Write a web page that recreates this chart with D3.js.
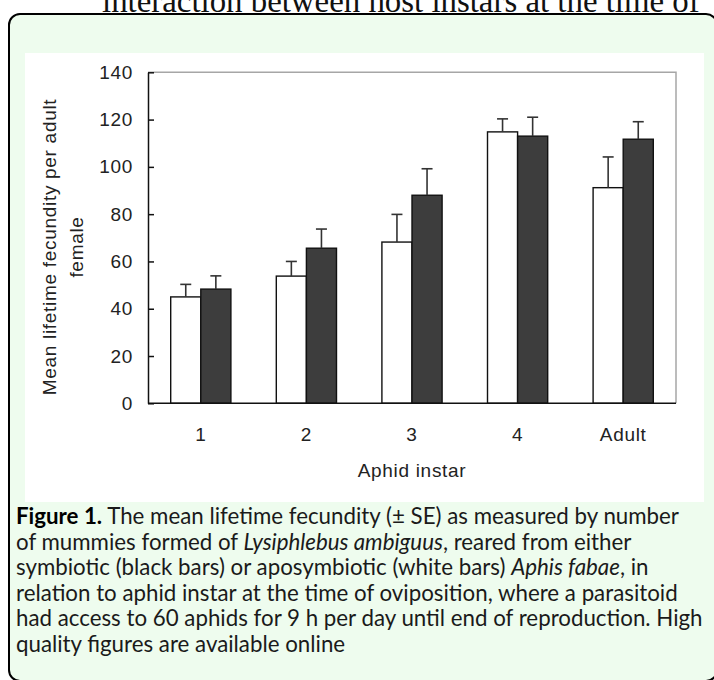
<!DOCTYPE html>
<html>
<head>
<meta charset="utf-8">
<script src="https://cdn.jsdelivr.net/npm/d3@7"></script>
<style>
  html, body { margin: 0; padding: 0; background: #ffffff; }
  svg { display: block; }
</style>
</head>
<body>
<svg id="chart" width="714" height="680"></svg>
<script>
// ---- data ----
const categories = ["1", "2", "3", "4", "Adult"];
const aposymbiotic = [45.0, 53.8, 68.2, 114.8, 91.2];     // white bars
const aposymbioticSE = [5.3, 6.2, 11.7, 5.5, 13.0];
const symbiotic = [48.3, 65.6, 88.0, 113.0, 111.7];       // black bars
const symbioticSE = [5.6, 8.1, 11.2, 8.0, 7.4];
const yTicks = [0, 20, 40, 60, 80, 100, 120, 140];
const seriesKeys = ["aposymbiotic", "symbiotic"];
const yLabelLines = ["Mean lifetime fecundity per adult", "female"];
const xLabel = "Aphid instar";
const headerText = "interaction between host instars at the time of";
const captionLines = [
  [{t: "Figure 1.", b: true}, {t: " The mean lifetime fecundity (± SE) as measured by number"}],
  [{t: "of mummies formed of "}, {t: "Lysiphlebus ambiguus", i: true}, {t: ", reared from either"}],
  [{t: "symbiotic (black bars) or aposymbiotic (white bars) "}, {t: "Aphis fabae", i: true}, {t: ", in"}],
  [{t: "relation to aphid instar at the time of oviposition, where a parasitoid"}],
  [{t: "had access to 60 aphids for 9 h per day until end of reproduction. High"}],
  [{t: "quality figures are available online"}]
];

const rows = categories.map((c, i) => ({
  cat: c,
  vals: [
    {key: "aposymbiotic", v: aposymbiotic[i], se: aposymbioticSE[i]},
    {key: "symbiotic", v: symbiotic[i], se: symbioticSE[i]}
  ]
}));

const svg = d3.select("#chart");

// header text (page text above the box, partly cut by the top of the view)
const head = svg.append("text")
  .attr("x", 102).attr("y", 12)
  .attr("font-family", "'Liberation Serif', 'Times New Roman', serif")
  .attr("font-size", 27)
  .attr("fill", "#111")
  .text(headerText);
{
  const w = head.node().getComputedTextLength();
  head.attr("font-size", 27 * 598 / w);
}

// outer figure box
svg.append("rect")
  .attr("x", 9).attr("y", 14)
  .attr("width", 708).attr("height", 667)
  .attr("rx", 11).attr("ry", 11)
  .attr("fill", "#eefcee")
  .attr("stroke", "#000").attr("stroke-width", 2);

// white chart panel
svg.append("rect")
  .attr("x", 25).attr("y", 53)
  .attr("width", 679).attr("height", 449)
  .attr("fill", "#ffffff");

// ---- scales ----
const plotL = 148, plotR = 676, plotT = 72.3, plotB = 403.3;
const y = d3.scaleLinear().domain([0, 140]).range([plotB, plotT]);
const x0 = d3.scaleBand().domain(categories).range([plotL, plotR])
  .paddingInner(0.43).paddingOuter(0.215);
const x1 = d3.scaleBand().domain(seriesKeys).range([0, x0.bandwidth()]);
const fills = d3.scaleOrdinal().domain(seriesKeys).range(["#ffffff", "#3d3d3d"]);

const axisFont = "'Liberation Sans', Arial, sans-serif";
const axisSize = 19;
const axisSpacing = 0.7;

// plot frame (top & right in grey)
svg.append("path")
  .attr("d", `M${plotL},${plotT}H${plotR}V${plotB}`)
  .attr("fill", "none").attr("stroke", "#a6a6a6").attr("stroke-width", 1.5);

// bars
const g = svg.append("g");
const groups = g.selectAll("g.grp").data(rows).join("g")
  .attr("class", "grp")
  .attr("transform", d => `translate(${x0(d.cat)},0)`);

groups.selectAll("rect").data(d => d.vals).join("rect")
  .attr("x", d => x1(d.key))
  .attr("y", d => y(d.v))
  .attr("width", x1.bandwidth())
  .attr("height", d => y(0) - y(d.v))
  .attr("fill", d => fills(d.key))
  .attr("stroke", "#111").attr("stroke-width", 1.4);

// error bars (upper only)
const eb = groups.selectAll("g.eb").data(d => d.vals).join("g").attr("class", "eb");
eb.append("line")
  .attr("x1", d => x1(d.key) + x1.bandwidth() / 2)
  .attr("x2", d => x1(d.key) + x1.bandwidth() / 2)
  .attr("y1", d => y(d.v))
  .attr("y2", d => y(d.v + d.se))
  .attr("stroke", "#333").attr("stroke-width", 1.6);
eb.append("line")
  .attr("x1", d => x1(d.key) + x1.bandwidth() / 2 - 5.5)
  .attr("x2", d => x1(d.key) + x1.bandwidth() / 2 + 5.5)
  .attr("y1", d => y(d.v + d.se))
  .attr("y2", d => y(d.v + d.se))
  .attr("stroke", "#333").attr("stroke-width", 1.6);

// y axis
const yAxis = svg.append("g")
  .attr("transform", `translate(${plotL},0)`)
  .call(d3.axisLeft(y).tickValues(yTicks).tickSizeInner(-6).tickSizeOuter(0).tickPadding(15));
yAxis.select(".domain").attr("stroke", "#111").attr("stroke-width", 1.5);
yAxis.selectAll(".tick line").attr("stroke", "#111").attr("stroke-width", 1.5);
yAxis.selectAll(".tick text")
  .attr("font-family", axisFont).attr("font-size", axisSize)
  .attr("letter-spacing", axisSpacing).attr("fill", "#222");

// x axis
const xAxis = svg.append("g")
  .attr("transform", `translate(0,${plotB})`)
  .call(d3.axisBottom(x0).tickSize(0).tickPadding(0));
xAxis.select(".domain").attr("stroke", "#111").attr("stroke-width", 1.5)
  .attr("d", `M${plotL},0H${plotR}`);
xAxis.selectAll(".tick text")
  .attr("y", 37.5).attr("dy", 0)
  .attr("font-family", axisFont).attr("font-size", axisSize)
  .attr("letter-spacing", axisSpacing).attr("fill", "#222");

// axis titles
svg.append("text")
  .attr("x", (plotL + plotR) / 2).attr("y", 477)
  .attr("text-anchor", "middle")
  .attr("font-family", axisFont).attr("font-size", axisSize)
  .attr("letter-spacing", axisSpacing).attr("fill", "#222")
  .text(xLabel);

const yl = svg.append("text")
  .attr("transform", `translate(56,247) rotate(-90)`)
  .attr("text-anchor", "middle")
  .attr("font-family", axisFont).attr("font-size", axisSize)
  .attr("letter-spacing", axisSpacing).attr("fill", "#222");
yLabelLines.forEach((l, i) => {
  yl.append("tspan").attr("x", 0).attr("y", i * 27).text(l);
});

// caption
const capFont = "Lato, 'Open Sans', sans-serif";
const cap = svg.append("g").attr("font-family", capFont).attr("fill", "#1a1a1a");
const capTexts = captionLines.map((segs, i) => {
  const t = cap.append("text").attr("x", 16).attr("y", 524.3 + i * 25.5).attr("font-size", 19);
  segs.forEach(s => {
    t.append("tspan")
      .attr("font-weight", s.b ? "bold" : null)
      .attr("font-style", s.i ? "italic" : null)
      .attr("fill", s.b ? "#000" : null)
      .text(s.t);
  });
  return t;
});
{
  const w = capTexts[4].node().getComputedTextLength();
  const fs = 19 * 687 / w;
  capTexts.forEach(t => t.attr("font-size", fs));
}
</script>
</body>
</html>
